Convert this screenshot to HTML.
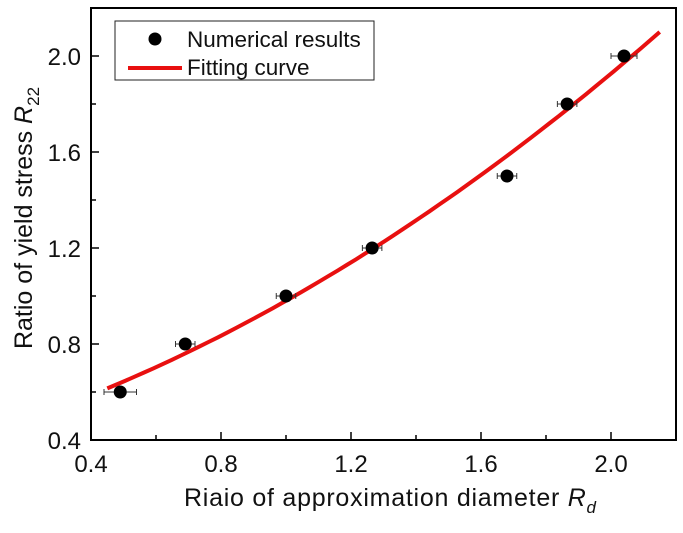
<!DOCTYPE html>
<html><head><meta charset="utf-8"><style>
body{margin:0;background:#fff}
svg text{font-family:"Liberation Sans",Arial,sans-serif;fill:#111}
</style></head><body>
<svg width="683" height="528" viewBox="0 0 683 528">
<g id="axes"></g><g id="marks"></g>
<g>
<rect x="115" y="21" width="259" height="59" fill="#fff" stroke="#222" stroke-width="1"/>
<circle cx="155" cy="39" r="6.5" fill="#000"/>
<text x="187" y="47" font-size="22.5">Numerical results</text>
<line x1="128" y1="68" x2="182" y2="68" stroke="#e81010" stroke-width="4"/>
<text x="187" y="75" font-size="22.5">Fitting curve</text>
</g>
<text x="390" y="506" font-size="25" text-anchor="middle" textLength="412">Riaio of approximation diameter <tspan font-style="italic">R</tspan><tspan font-size="17" font-style="italic" dy="7">d</tspan></text>
<text transform="translate(32,218) rotate(-90)" font-size="25" text-anchor="middle">Ratio of yield stress <tspan font-style="italic">R</tspan><tspan font-size="17" dy="7">22</tspan></text>
</svg>
<script>
const xVals=[0.49,0.69,1.0,1.265,1.68,1.865,2.04];
const yVals=[0.6,0.8,1.0,1.2,1.5,1.8,2.0];
const xErr=[0.05,0.03,0.03,0.03,0.03,0.03,0.04];
const fitCoef=[0.3985,0.399,0.1825];
const fitRange=[0.45,2.15];
const xTicks=[0.4,0.8,1.2,1.6,2.0];
const yTicks=[0.4,0.8,1.2,1.6,2.0];
const L=91,R=676,T=8,B=440,X0=0.4,X1=2.2,Y0=0.4,Y1=2.2;
const sx=v=>L+(v-X0)/(X1-X0)*(R-L), sy=v=>B-(v-Y0)/(Y1-Y0)*(B-T);
const NS='http://www.w3.org/2000/svg';
function mk(t,a,p){const e=document.createElementNS(NS,t);for(const k in a)e.setAttribute(k,a[k]);p.appendChild(e);return e;}
const ax=document.getElementById('axes'),mg=document.getElementById('marks');
const frame=mk('rect',{x:L,y:T,width:R-L,height:B-T,fill:'none',stroke:'#000','stroke-width':2},ax);


xTicks.forEach(v=>{const x=sx(v);
const t=mk('line',{x1:x,y1:B,x2:x,y2:B-8,stroke:'#000','stroke-width':1.5},ax);


const m=mk('line',{x1:sx(v+0.2),y1:B,x2:sx(v+0.2),y2:B-5,stroke:'#000','stroke-width':1.5},ax);


const l=mk('text',{x:x,y:472,'font-size':24,'text-anchor':'middle'},ax);l.textContent=v.toFixed(1);

});
yTicks.forEach(v=>{const y=sy(v);
const t=mk('line',{x1:L,y1:y,x2:L+8,y2:y,stroke:'#000','stroke-width':1.5},ax);


const m=mk('line',{x1:L,y1:sy(v+0.2),x2:L+5,y2:sy(v+0.2),stroke:'#000','stroke-width':1.5},ax);


const l=mk('text',{x:81,y:y+9,'font-size':24,'text-anchor':'end'},ax);l.textContent=v.toFixed(1);

});
let d='';for(let i=0;i<=60;i++){const x=fitRange[0]+(fitRange[1]-fitRange[0])*i/60;const y=fitCoef[0]+fitCoef[1]*x+fitCoef[2]*x*x;d+=(i?'L':'M')+sx(x).toFixed(1)+' '+sy(y).toFixed(1);}
const c=mk('path',{d:d,fill:'none',stroke:'#e81010','stroke-width':4},mg);


xVals.forEach((v,i)=>{const x=sx(v),y=sy(yVals[i]),x1=sx(v-xErr[i]),x2=sx(v+xErr[i]);
const e=mk('path',{d:`M${x1} ${y}H${x2}M${x1} ${y-3}V${y+3}M${x2} ${y-3}V${y+3}`,stroke:'#333','stroke-width':1,fill:'none'},mg);


const p=mk('circle',{cx:x,cy:y,r:6.5,fill:'#000'},mg);

});
</script>
</body></html>
